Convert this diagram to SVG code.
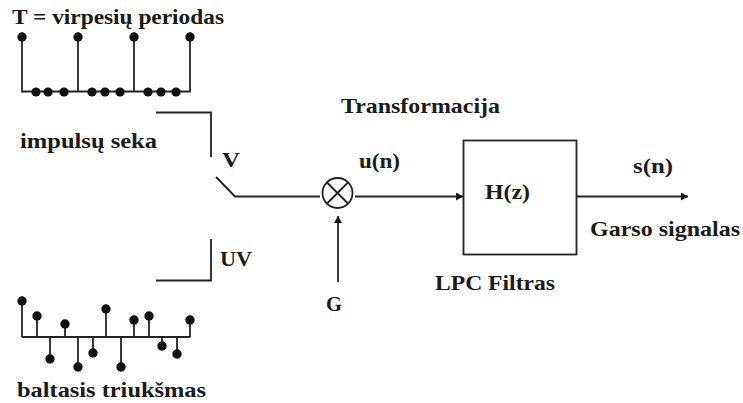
<svg xmlns="http://www.w3.org/2000/svg" width="743" height="403" viewBox="0 0 743 403">
<style>
.l{fill:none;stroke:#222;stroke-width:1.8}
.t{font-family:"Liberation Serif","Times New Roman",serif;font-weight:bold;font-size:22px;fill:#1a1a1a}
.d{fill:#111}
</style>
<defs>
<marker id="a" markerUnits="userSpaceOnUse" markerWidth="9" markerHeight="9" refX="7" refY="4" orient="auto"><path d="M0 0L7 4L0 8Z" fill="#111"/></marker>
<circle id="p" r="4.7" class="d"/>
<circle id="s" r="4.6" class="d"/>
</defs>
<rect width="743" height="403" fill="#fff"/>
<g id="connectors">
<path class="l" d="M156 112.500H211V157"/>
<path class="l" d="M216 177L235 196.500H320"/>
<path class="l" d="M156 280.500H211V239"/>
<path class="l" d="M355 196.500H463" marker-end="url(#a)"/>
<path class="l" d="M338 282V216" marker-end="url(#a)"/>
<path class="l" d="M577 196.500H688" marker-end="url(#a)"/>
</g>
<g id="impulse-train">
<path class="l" d="M22 37V91.500H190V37M78 37V91.500M134 37V91.500"/>
<use href="#p" x="22" y="37"/><use href="#p" x="78" y="37"/><use href="#p" x="134" y="37"/><use href="#p" x="190" y="37"/>
<use href="#s" x="36" y="92"/><use href="#s" x="48" y="92"/><use href="#s" x="64" y="92"/>
<use href="#s" x="92" y="92"/><use href="#s" x="105" y="92"/><use href="#s" x="120" y="92"/>
<use href="#s" x="148" y="92"/><use href="#s" x="161" y="92"/><use href="#s" x="176" y="92"/>
</g>
<g id="white-noise">
<path class="l" d="M22 337H190M22 301V337M37 316V337M50 359V337M65 324V337M78 367V337M93 353V337M106 309V337M121 367V337M134 320V337M149 316V337M162 346V337M177 354V337M190 320V337"/>
<use href="#p" x="22" y="301"/><use href="#p" x="37" y="316"/><use href="#p" x="50" y="359"/><use href="#p" x="65" y="324"/><use href="#p" x="78" y="367"/><use href="#p" x="93" y="353"/><use href="#p" x="106" y="309"/><use href="#p" x="121" y="367"/><use href="#p" x="134" y="320"/><use href="#p" x="149" y="316"/><use href="#p" x="162" y="346"/><use href="#p" x="177" y="354"/><use href="#p" x="190" y="320"/>
</g>
<g id="multiplier">
<circle class="l" cx="337.500" cy="193" r="15"/>
<path class="l" d="M327 182.500L348 203.500M348 182.500L327 203.500"/>
</g>
<g id="filter">
<rect class="l" x="463.500" y="140.500" width="113" height="114"/>
<text class="t" x="485" y="199" textLength="45" lengthAdjust="spacingAndGlyphs">H(z)</text>
</g>
<g id="labels">
<text class="t" x="12" y="24" textLength="212" lengthAdjust="spacingAndGlyphs">T = virpesių periodas</text>
<text class="t" x="20" y="148" textLength="137" lengthAdjust="spacingAndGlyphs">impulsų seka</text>
<text class="t" x="222" y="167" textLength="18" lengthAdjust="spacingAndGlyphs">V</text>
<text class="t" x="220" y="266" textLength="32" lengthAdjust="spacingAndGlyphs">UV</text>
<text class="t" x="17" y="397" textLength="189" lengthAdjust="spacingAndGlyphs">baltasis triukšmas</text>
<text class="t" x="341" y="113" textLength="159" lengthAdjust="spacingAndGlyphs">Transformacija</text>
<text class="t" x="359" y="168" textLength="41" lengthAdjust="spacingAndGlyphs">u(n)</text>
<text class="t" x="326" y="311" textLength="16" lengthAdjust="spacingAndGlyphs">G</text>
<text class="t" x="435" y="290" textLength="120" lengthAdjust="spacingAndGlyphs">LPC Filtras</text>
<text class="t" x="633" y="173" textLength="40" lengthAdjust="spacingAndGlyphs">s(n)</text>
<text class="t" x="590" y="236" textLength="150" lengthAdjust="spacingAndGlyphs">Garso signalas</text>
</g>
</svg>
